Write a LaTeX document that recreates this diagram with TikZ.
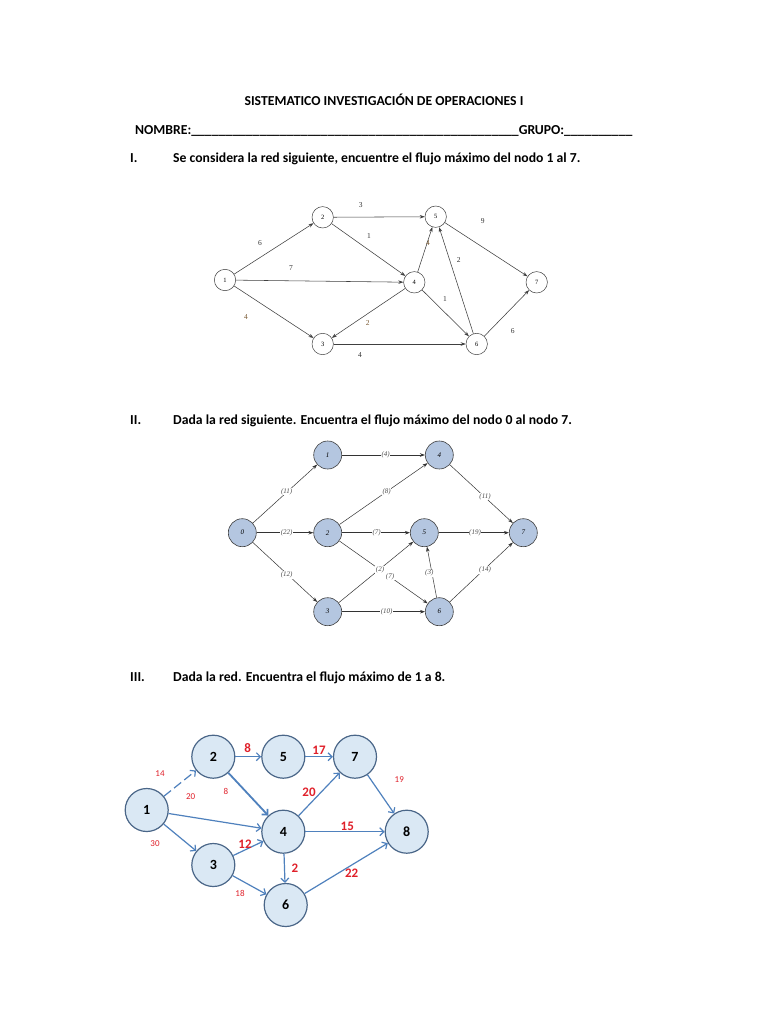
\documentclass[tikz,border=0pt]{standalone}
\usepackage{fontspec}
\setmainfont{Carlito}
\newfontfamily\graphfont{Liberation Serif}
\usetikzlibrary{arrows.meta}
\definecolor{brownlab}{HTML}{7A5A34}
\definecolor{nodeblue}{HTML}{B4C6E0}
\definecolor{lineblue}{HTML}{4F81BD}
\definecolor{paleblue}{HTML}{DAE8F4}
\definecolor{rimblue}{HTML}{4A6688}
\definecolor{labred}{HTML}{E0202A}
\newcommand{\fillin}[1]{\foreach \i in {1,...,#1}{\_}}
\begin{document}
\begin{tikzpicture}[x=1pt, y=-1pt, >={Stealth[length=5pt,width=3.5pt]},
  head/.style={inner sep=0pt, font=\fontsize{13.7}{15}\selectfont\bfseries},
  circI/.style={circle, draw=black!75, line width=0.5pt, minimum size=21.4pt, inner sep=0pt, font=\graphfont\fontsize{6.5}{7}\selectfont},
  arcI/.style={->, draw=black!75, line width=0.55pt},
  valI/.style={font=\graphfont\fontsize{7.5}{8}\selectfont, text=black!80},
  circII/.style={circle, draw=black!75, fill=nodeblue, line width=0.6pt, minimum size=28pt, inner sep=0pt, font=\graphfont\itshape\fontsize{7}{8}\selectfont},
  arcII/.style={->, draw=black!80, line width=0.5pt},
  valII/.style={fill=white, inner sep=0.6pt, font=\graphfont\itshape\fontsize{7}{8}\selectfont, text=black!70},
  circIII/.style={circle, draw=rimblue, fill=paleblue, line width=1.2pt, minimum size=43pt, inner sep=0pt, font=\fontsize{14}{16}\selectfont\bfseries},
  arcIII/.style={-{Straight Barb[length=4pt,width=8pt]}, draw=lineblue, line width=1.2pt},
  valIII/.style={text=labred, font=\fontsize{9}{10}\selectfont},
  valIIIb/.style={text=labred, font=\fontsize{13}{14}\selectfont\bfseries}]
\useasboundingbox[fill=white] (0,0) rectangle (768,1024);

\node[head, anchor=base] (title) at (384,106) {SISTEMATICO INVESTIGACIÓN DE OPERACIONES I};
\node[head, anchor=base west] (nombre) at (135,135) {NOMBRE:\fillin{48}GRUPO:\fillin{10}};
\node[head, anchor=base west] (numI) at (130,163) {I.};
\node[head, anchor=base west] (taskI) at (173,163) {Se considera la red siguiente, encuentre el flujo máximo del nodo 1 al 7.};
\node[head, anchor=base west] (numII) at (130,424) {II.};
\node[head, anchor=base west] (taskII) at (173,424) {Dada la red siguiente. Encuentra el flujo máximo del nodo 0 al nodo 7.};
\node[head, anchor=base west] (numIII) at (130,681) {III.};
\node[head, anchor=base west] (taskIII) at (173,681) {Dada la red. Encuentra el flujo máximo de 1 a 8.};

\node[circI] (a1) at (225,280) {1};
\node[circI] (a2) at (322.7,217.3) {2};
\node[circI] (a3) at (322.7,344) {3};
\node[circI] (a4) at (414.3,282.3) {4};
\node[circI] (a5) at (435.7,216.7) {5};
\node[circI] (a6) at (476.7,344) {6};
\node[circI] (a7) at (536.7,282.3) {7};

\draw[arcI] (a1) -- (a2);
\draw[arcI] (a1) -- (a4);
\draw[arcI] (a1) -- (a3);
\draw[arcI] (a2) -- (a5);
\draw[arcI] (a2) -- (a4);
\draw[arcI] (a4) -- (a5);
\draw[arcI] (a4) -- (a3);
\draw[arcI] (a4) -- (a6);
\draw[arcI] (a3) -- (a6);
\draw[arcI] (a6) -- (a5);
\draw[arcI] (a5) -- (a7);
\draw[arcI] (a6) -- (a7);

\node[valI] (wI25) at (360.7,205) {3};
\node[valI] (wI24) at (369,236) {1};
\node[valI] (wI12) at (260,243.3) {6};
\node[valI] (wI14) at (291,268.3) {7};
\node[valI, text=brownlab] (wI13) at (246,316.7) {4};
\node[valI, text=brownlab] (wI45) at (428,242.7) {4};
\node[valI] (wI65) at (458.7,260) {2};
\node[valI] (wI57) at (482.7,220.7) {9};
\node[valI] (wI46) at (445,299.3) {1};
\node[valI, text=brownlab] (wI43) at (367.7,323.3) {2};
\node[valI] (wI67) at (512.7,331) {6};
\node[valI] (wI36) at (360,354.7) {4};

\node[circII] (b0) at (242.3,532.7) {0};
\node[circII] (b1) at (327.7,455) {1};
\node[circII] (b2) at (327.7,532.7) {2};
\node[circII] (b3) at (327.7,611.7) {3};
\node[circII] (b4) at (439.3,455) {4};
\node[circII] (b5) at (424.3,532.7) {5};
\node[circII] (b6) at (439.3,611.7) {6};
\node[circII] (b7) at (523.3,532.7) {7};

\draw[arcII] (b0) -- (b1);
\draw[arcII, line width=0.8pt] (b1) -- (b4);
\draw[arcII, line width=0.8pt] (b0) -- (b2);
\draw[arcII] (b2) -- (b4);
\draw[arcII, line width=0.8pt] (b2) -- (b5);
\draw[arcII, line width=0.8pt] (b5) -- (b7);
\draw[arcII] (b4) -- (b7);
\draw[arcII] (b0) -- (b3);
\draw[arcII] (b3) -- (b5);
\draw[arcII] (b2) -- (b6);
\draw[arcII] (b3) -- (b6);
\draw[arcII] (b6) -- (b5);
\draw[arcII] (b6) -- (b7);

\node[valII] (wII01) at (286.7,491.7) {(11)};
\node[valII] (wII14) at (385.7,455) {(4)};
\node[valII] (wII02) at (286.7,532.7) {(22)};
\node[valII] (wII24) at (386.7,491.7) {(8)};
\node[valII] (wII25) at (376.7,532.7) {(7)};
\node[valII] (wII57) at (475,532.7) {(19)};
\node[valII] (wII47) at (485,496.7) {(11)};
\node[valII] (wII03) at (286.7,575) {(12)};
\node[valII] (wII35) at (380,570) {(2)};
\node[valII] (wII26) at (390,576.7) {(7)};
\node[valII] (wII36) at (386.7,611.7) {(10)};
\node[valII] (wII65) at (429.3,573.3) {(3)};
\node[valII] (wII67) at (485,570) {(14)};

\node[circIII] (c1) at (146.7,810) {1};
\node[circIII] (c2) at (213.3,756.7) {2};
\node[circIII] (c3) at (213.3,865) {3};
\node[circIII] (c4) at (283.3,831.7) {4};
\node[circIII] (c5) at (283.3,756.7) {5};
\node[circIII] (c6) at (285.7,905) {6};
\node[circIII] (c7) at (355,756.7) {7};
\node[circIII] (c8) at (406.7,831.7) {8};

\draw[arcIII, dash pattern=on 9pt off 4pt] (c1) -- (c2);
\draw[arcIII] (c1) -- (c4);
\draw[arcIII] (c1) -- (c3);
\draw[arcIII] (c2) -- (c5);
\draw[arcIII, line width=1.8pt] (c2) -- (c4);
\draw[arcIII] (c5) -- (c7);
\draw[arcIII] (c7) -- (c8);
\draw[arcIII] (c4) -- (c7);
\draw[arcIII] (c4) -- (c8);
\draw[arcIII] (c3) -- (c4);
\draw[arcIII] (c3) -- (c6);
\draw[arcIII] (c4) -- (c6);
\draw[arcIII] (c6) -- (c8);

\node[valIII] (wIII12) at (160,773.3) {14};
\node[valIII] (wIII14) at (190.7,796.7) {20};
\node[valIII] (wIII24) at (226,791) {8};
\node[valIII] (wIII13) at (155,843.3) {30};
\node[valIII] (wIII36) at (240,893.3) {18};
\node[valIII] (wIII78) at (399.3,779.3) {19};
\node[valIIIb] (wIII25) at (247.7,748.3) {8};
\node[valIIIb] (wIII57) at (319,750) {17};
\node[valIIIb] (wIII47) at (309,792) {20};
\node[valIIIb] (wIII48) at (347.3,826) {15};
\node[valIIIb] (wIII34) at (245,844) {12};
\node[valIIIb] (wIII46) at (295,868.3) {2};
\node[valIIIb] (wIII68) at (351.7,873.3) {22};
\end{tikzpicture}
\end{document}
